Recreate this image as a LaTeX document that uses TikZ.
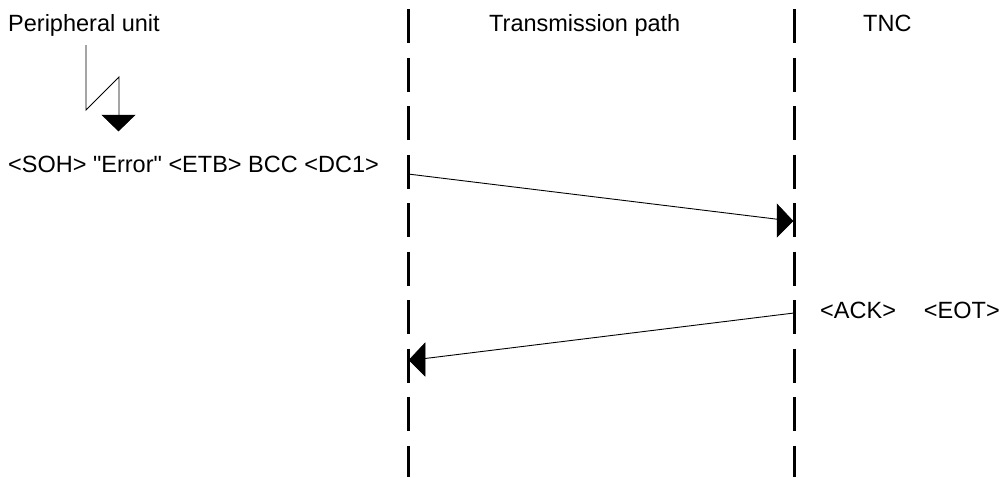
\documentclass[tikz,border=0pt]{standalone}
\usepackage{fontspec}
\setmainfont{Liberation Sans}
\begin{document}
\begin{tikzpicture}[x=1pt,y=-1pt,
  lbl/.style={anchor=base west,inner sep=0pt,font=\fontsize{23.5}{28}\selectfont},
  lane/.style={line width=3pt,dash pattern=on 34pt off 14.5pt},
  thin/.style={line width=0.9pt},
  head/.style={fill=black,draw=black,line width=0.5pt,line join=miter}]
\useasboundingbox (0,0) rectangle (1006,477);
% labels
\node[lbl] (pu) at (8,31) {Peripheral unit};
\node[lbl] (tp) at (489,31) {Transmission path};
\node[lbl] (tnc) at (863,31) {TNC};
\node[lbl] (m1) at (8,172) {<SOH> \textquotedbl Error\textquotedbl{} <ETB> BCC <DC1>};
\node[lbl] (m2) at (820,318) {<ACK>\hspace{28pt}<EOT>};
% lanes
\coordinate (L1top) at (408,9);
\coordinate (L1bot) at (408,477);
\coordinate (L2top) at (794,9);
\coordinate (L2bot) at (794,477);
\draw[lane] (L1top) -- (L1bot);
\draw[lane] (L2top) -- (L2bot);
% message 1
\coordinate (a1s) at (408,174);
\coordinate (a1b) at (777,219.2);
\coordinate (a1e) at (793,221);
\draw[thin] (a1s) -- (a1b);
\fill[head] (a1e) -- (777,204) -- (777,237) -- cycle;
% message 2
\coordinate (a2s) at (794,313);
\coordinate (a2b) at (425,358.5);
\coordinate (a2e) at (409,360);
\draw[thin] (a2s) -- (a2b);
\fill[head] (a2e) -- (425,343) -- (425,376) -- cycle;
% peripheral unit symbol
\coordinate (s1) at (86,45);
\coordinate (s2) at (86,110);
\coordinate (s3) at (119,77);
\coordinate (s4) at (119,115);
\draw[thin] (s1) -- (s2) -- (s3) -- (s4);
\fill[head] (102,115) -- (135,115) -- (118.5,131) -- cycle;
\end{tikzpicture}
\end{document}
